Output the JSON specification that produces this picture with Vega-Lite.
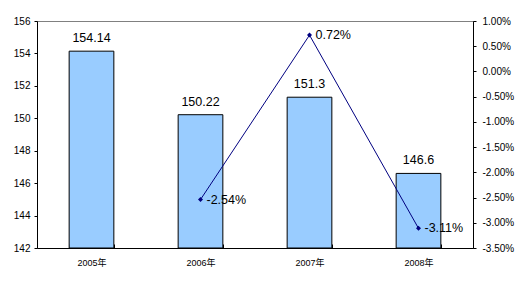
{
  "$schema": "https://vega.github.io/schema/vega-lite/v6.json",
  "width": 436,
  "height": 227,
  "autosize": {"type": "none"},
  "padding": {"left": 37, "top": 21, "right": 55, "bottom": 36},
  "background": "white",
  "config": {
    "locale": {"number": {"decimal": ".", "thousands": ",", "grouping": [3], "currency": ["$", ""], "minus": "-"}},
    "view": {"stroke": "#808080", "strokeWidth": 1},
    "font": "Liberation Sans, Noto Sans CJK SC",
    "axis": {"grid": false, "domainColor": "black", "tickColor": "black", "labelColor": "black", "labelFont": "Liberation Sans, Noto Sans CJK SC", "title": null, "labelOverlap": false, "labelBound": false, "zindex": 1}
  },
  "data": {
    "values": [
      {"year": "2005年", "value": 154.14, "pct": null},
      {"year": "2006年", "value": 150.22, "pct": -0.0254},
      {"year": "2007年", "value": 151.3, "pct": 0.0072},
      {"year": "2008年", "value": 146.6, "pct": -0.0311}
    ]
  },
  "encoding": {
    "x": {
      "field": "year", "type": "nominal", "sort": null,
      "scale": {"paddingInner": 0.59, "paddingOuter": 0.295},
      "axis": {"labelAngle": 0, "labelFontSize": 9, "ticks": true, "tickBand": "extent", "tickSize": -4, "tickWidth": 1, "labelPadding": 14, "domainWidth": 1}
    }
  },
  "layer": [
    {
      "encoding": {
        "y": {"field": "value", "type": "quantitative", "scale": {"domain": [142, 156], "zero": false, "nice": false},
          "axis": {"values": [142, 144, 146, 148, 150, 152, 154, 156], "labelOverlap": false, "labelFontSize": 10, "tickSize": 3, "labelPadding": 4}}
      },
      "layer": [
        {
          "mark": {"type": "bar", "fill": "#99CCFF", "stroke": "black", "strokeWidth": 1},
          "encoding": {"y2": {"datum": 142}}
        },
        {
          "mark": {"type": "text", "baseline": "bottom", "dy": -6, "fontSize": 12.5, "color": "black"},
          "encoding": {"text": {"field": "value", "type": "quantitative"}}
        }
      ]
    },
    {
      "transform": [{"filter": "datum.pct != null"}],
      "encoding": {
        "y": {"field": "pct", "type": "quantitative", "scale": {"domain": [-0.035, 0.01], "zero": false, "nice": false},
          "axis": {"orient": "right", "format": ".2%", "values": [0.01, 0.005, 0, -0.005, -0.01, -0.015, -0.02, -0.025, -0.03, -0.035], "labelOverlap": false, "labelFontSize": 10, "tickSize": 3, "labelPadding": 6}}
      },
      "layer": [
        {
          "mark": {"type": "line", "color": "#000080", "strokeWidth": 1},
          "encoding": {}
        },
        {
          "mark": {"type": "point", "shape": "diamond", "filled": true, "color": "#000080", "size": 25, "opacity": 1},
          "encoding": {}
        },
        {
          "mark": {"type": "text", "align": "left", "baseline": "middle", "dx": 6, "fontSize": 12.5, "color": "black"},
          "encoding": {"text": {"field": "pct", "type": "quantitative", "format": ".2%"}}
        }
      ]
    }
  ],
  "resolve": {"scale": {"y": "independent"}}
}
